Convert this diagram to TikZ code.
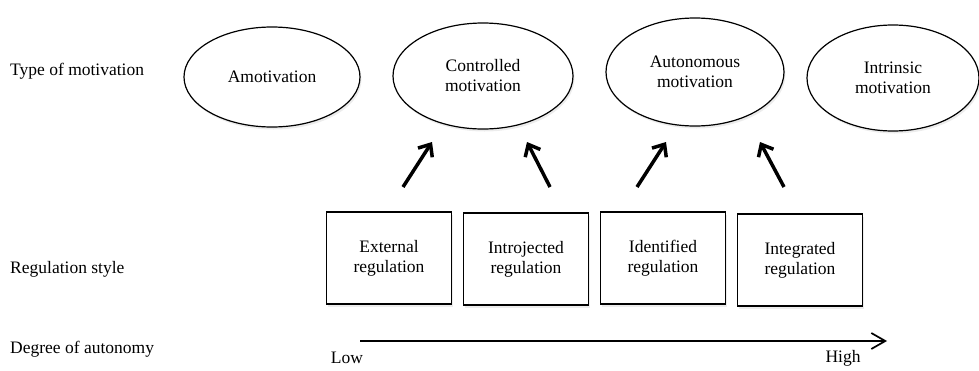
\documentclass[tikz,border=0pt]{standalone}
\usepackage{fontspec}
\setmainfont{Liberation Serif}
\usetikzlibrary{arrows.meta,shadows,shapes.geometric}

\begin{document}
\begin{tikzpicture}[x=1pt,y=-1pt]
	\tikzstyle{motiv_style} = [ellipse,draw=black,line width=1.2pt,fill=white,inner sep=0pt,align=center,
		drop shadow={opacity=0.15,shadow xshift=1.5pt,shadow yshift=-2.5pt}]
	\tikzstyle{reg_style} = [rectangle,draw=black,line width=1.3pt,fill=white,inner sep=0pt,align=center,
		minimum width=125pt,minimum height=92pt,
		drop shadow={opacity=0.15,shadow xshift=1.5pt,shadow yshift=-2.5pt}]
	\tikzstyle{row_style} = [anchor=west,inner sep=0pt]
	\tikzstyle{edge_style} = [draw=black,line width=3.5pt,-{Straight Barb[length=10pt,width=17pt,line width=3.5pt]}]
	\useasboundingbox (0,0) rectangle (979,370);
	\fontsize{17.5}{20}\selectfont
	% row labels
	\node[row_style] (typelab) at (10,71) {Type of motivation};
	\node[row_style] (reglab) at (10,269) {Regulation style};
	\node[row_style] (deglab) at (10,349) {Degree of autonomy};
	% types of motivation
	\node[motiv_style,minimum width=176pt,minimum height=100pt] (amot) at (272,77) {Amotivation};
	\node[motiv_style,minimum width=180pt,minimum height=106pt] (contr) at (483,76) {Controlled\\motivation};
	\node[motiv_style,minimum width=178pt,minimum height=108pt] (auton) at (695,72) {Autonomous\\motivation};
	\node[motiv_style,minimum width=172pt,minimum height=106pt] (intr) at (893,78) {Intrinsic\\motivation};
	% regulation styles
	\node[reg_style] (ext) at (389,258) {External\\regulation};
	\node[reg_style] (introj) at (526,259) {Introjected\\regulation};
	\node[reg_style] (ident) at (663,258) {Identified\\regulation};
	\node[reg_style] (integ) at (800,260) {Integrated\\regulation};
	% arrows between the rows
	\coordinate (ext_top) at (403,187);
	\coordinate (introj_top) at (550,187);
	\coordinate (ident_top) at (637,187);
	\coordinate (integ_top) at (784,187);
	\coordinate (contr_l) at (432,142);
	\coordinate (contr_r) at (527,142);
	\coordinate (auton_l) at (666,142);
	\coordinate (auton_r) at (760,142);
	\draw[edge_style] (ext_top) -- (contr_l);
	\draw[edge_style] (introj_top) -- (contr_r);
	\draw[edge_style] (ident_top) -- (auton_l);
	\draw[edge_style] (integ_top) -- (auton_r);
	% degree of autonomy
	\node[inner sep=0pt] (low) at (347,358) {Low};
	\node[inner sep=0pt] (high) at (843,358) {High};
	\coordinate (axis_start) at (360,341);
	\coordinate (axis_end) at (887,341);
	\draw[line width=1.7pt,-{Straight Barb[length=14pt,width=16pt,line width=1.7pt]}] (axis_start) -- (axis_end);
\end{tikzpicture}
\end{document}
